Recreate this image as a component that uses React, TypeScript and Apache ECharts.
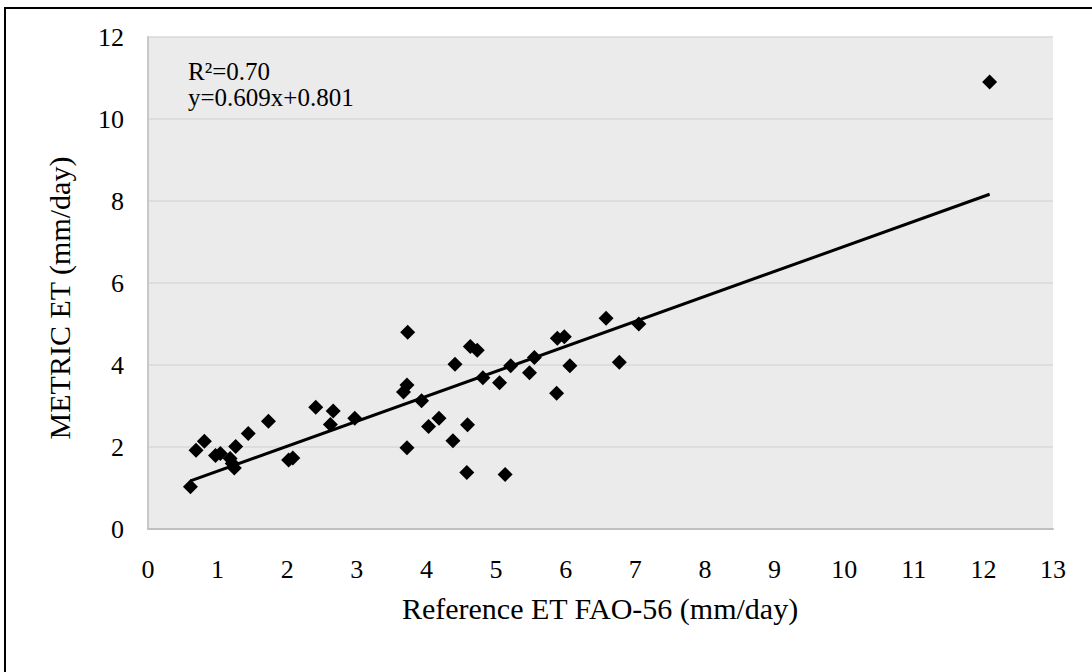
import React, { useEffect, useRef } from "react";
import * as echarts from "echarts";

// Reference ET FAO-56 (mm/day)
const refET: number[] = [
  0.61, 0.69, 0.81, 0.97, 1.04, 1.18, 1.21, 1.24, 1.26, 1.44, 1.73, 2.02, 2.08,
  2.41, 2.62, 2.66, 2.97, 3.67, 3.72, 3.73, 3.72, 3.93, 4.03, 4.18, 4.38, 4.41,
  4.58, 4.59, 4.63, 4.73, 4.81, 5.05, 5.13, 5.21, 5.48, 5.55, 5.87, 5.88, 5.98,
  6.06, 6.58, 6.77, 7.05, 12.09,
];
// METRIC ET (mm/day)
const metricET: number[] = [
  1.03, 1.92, 2.14, 1.79, 1.84, 1.72, 1.6, 1.49, 2.01, 2.33, 2.63, 1.68, 1.73,
  2.97, 2.55, 2.88, 2.7, 3.34, 3.51, 4.8, 1.98, 3.13, 2.5, 2.7, 2.15, 4.02,
  1.38, 2.54, 4.45, 4.36, 3.69, 3.57, 1.33, 3.98, 3.81, 4.18, 3.31, 4.65, 4.69,
  3.98, 5.14, 4.07, 5.0, 10.9,
];

const slope = 0.609;
const intercept = 0.801;
const trendX: number[] = [0.61, 12.09];

const annotationLines: string[] = ["R²=0.70", "y=0.609x+0.801"];

const xTicks = { min: 0, max: 13, interval: 1 };
const yTicks = { min: 0, max: 12, interval: 2 };

const FONT = "Liberation Serif";

export default function App() {
  const ref = useRef<HTMLDivElement>(null);

  useEffect(() => {
    if (!ref.current) return;
    const chart = echarts.init(ref.current, undefined, { renderer: "svg" });
    const points = refET.map((x, i) => [x, metricET[i]]);
    const trend = trendX.map((x) => [x, slope * x + intercept]);

    chart.setOption({
      animation: false,
      backgroundColor: "#ffffff",
      textStyle: { fontFamily: FONT },
      grid: {
        left: 148,
        top: 37,
        right: 39,
        bottom: 143,
        show: true,
        backgroundColor: "#ebebeb",
        borderWidth: 0,
      },
      xAxis: {
        type: "value",
        min: xTicks.min,
        max: xTicks.max,
        interval: xTicks.interval,
        axisLine: { show: true, onZero: false, lineStyle: { color: "#c0c0c0", width: 2 } },
        axisTick: { show: false },
        splitLine: { show: false },
        axisLabel: { color: "#000", fontFamily: FONT, fontSize: 26, margin: 27 },
      },
      yAxis: {
        type: "value",
        min: yTicks.min,
        max: yTicks.max,
        interval: yTicks.interval,
        axisLine: { show: true, onZero: false, lineStyle: { color: "#c8c8c8", width: 2 } },
        axisTick: { show: false },
        splitLine: { show: true, lineStyle: { color: "#d9d9d9", width: 1.5 } },
        axisLabel: { color: "#000", fontFamily: FONT, fontSize: 26, margin: 24 },
      },
      series: [
        {
          type: "line",
          data: trend,
          showSymbol: false,
          symbol: "none",
          lineStyle: { color: "#000", width: 3 },
          z: 2,
        },
        {
          type: "scatter",
          data: points,
          symbol: "diamond",
          symbolSize: 15,
          itemStyle: { color: "#000", opacity: 1 },
          z: 3,
        },
      ],
      graphic: [
        {
          type: "line",
          shape: { x1: 5, y1: 7, x2: 5, y2: 672 },
          style: { stroke: "#000", lineWidth: 2 },
        },
        {
          type: "line",
          shape: { x1: 4, y1: 8, x2: 1092, y2: 8 },
          style: { stroke: "#000", lineWidth: 2 },
        },
        ...annotationLines.map((t, i) => ({
          type: "text",
          x: 188,
          y: 59 + i * 26,
          style: {
            text: t,
            fontFamily: FONT,
            fontSize: 25,
            fill: "#000",
          },
        })),
        {
          type: "text",
          x: 600,
          y: 608,
          style: {
            text: "Reference ET FAO-56 (mm/day)",
            fontFamily: FONT,
            fontSize: 30,
            fill: "#000",
            align: "center",
            verticalAlign: "middle",
          },
        },
        {
          type: "text",
          x: 59,
          y: 298,
          rotation: Math.PI / 2,
          style: {
            text: "METRIC ET (mm/day)",
            fontFamily: FONT,
            fontSize: 30,
            fill: "#000",
            align: "center",
            verticalAlign: "middle",
          },
        },
      ],
    });

    return () => chart.dispose();
  }, []);

  return (
    <div
      ref={ref}
      style={{ position: "fixed", left: 0, top: 0, width: 1092, height: 672 }}
    />
  );
}
